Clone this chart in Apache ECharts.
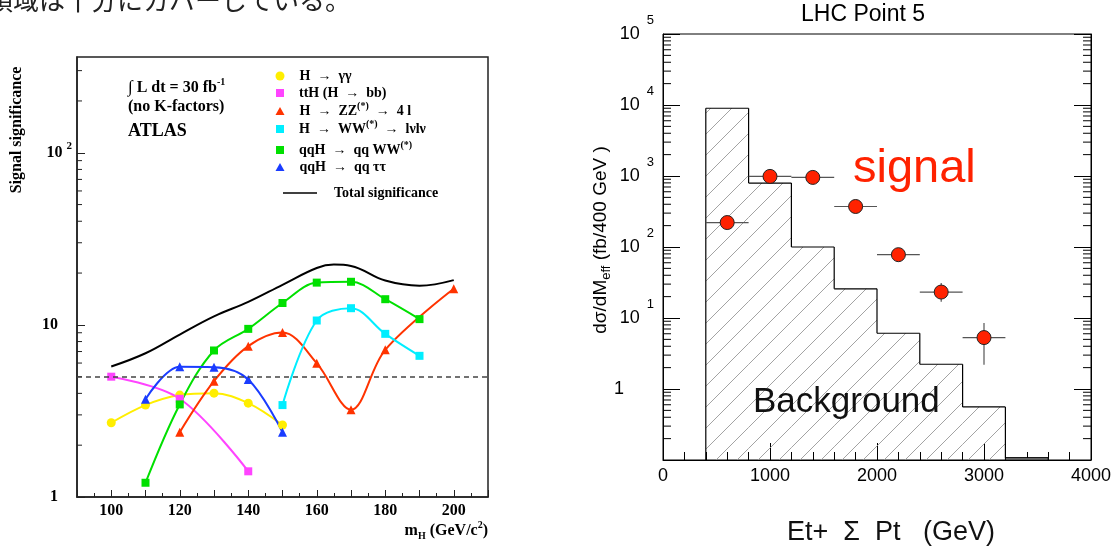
<!DOCTYPE html>
<html>
<head>
<meta charset="utf-8">
<title>Signal significance / LHC Point 5</title>
<script src="https://cdn.jsdelivr.net/npm/echarts@6/dist/echarts.min.js"></script>
<style>
  html, body { margin: 0; padding: 0; background: #fff; }
  #main { width: 1115px; height: 549px; }
</style>
</head>
<body>
<div id="main"></div>
<script>
// ---- left plot: ATLAS signal significance vs m_H (30 fb-1) ----
var gammaMass = [100, 110, 120, 130, 140, 150];
var gammaSig  = [2.70, 3.42, 3.91, 4.01, 3.51, 2.62];
var ttHMass   = [100, 120, 140];
var ttHSig    = [5.0, 3.72, 1.41];
var zzMass    = [120, 130, 140, 150, 160, 170, 180, 200];
var zzSig     = [2.38, 4.71, 7.52, 9.02, 5.99, 3.21, 7.16, 16.2];
var wwMass    = [150, 160, 170, 180, 190];
var wwSig     = [3.42, 10.6, 12.5, 8.87, 6.61];
var qqwwMass  = [110, 120, 130, 140, 150, 160, 170, 180, 190];
var qqwwSig   = [1.21, 3.45, 7.10, 9.48, 13.4, 17.6, 17.8, 14.1, 10.8];
var qqttMass  = [110, 120, 130, 140, 150];
var qqttSig   = [3.70, 5.71, 5.68, 4.82, 2.38];
var totalMass = [100, 110, 120, 130, 140, 150, 160, 165, 170, 180, 190, 200];
var totalSig  = [5.73, 6.84, 8.79, 11.2, 13.6, 17.1, 21.4, 22.4, 22.0, 18.1, 16.9, 18.2];
var discoveryLine = 5;
var leftXLabels = [100, 120, 140, 160, 180, 200];

// ---- right plot: LHC Point 5, Et + sum Pt ----
var bgBinLo  = [400, 800, 1200, 1600, 2000, 2400, 2800, 3200];
var bgVal    = [9000, 795, 100, 25.8, 6.1, 2.23, 0.56, 0.107];
var binWidth = 400;
var sigX     = [600, 1000, 1400, 1800, 2200, 2600, 3000];
var sigVal   = [221, 987, 955, 372, 78, 23.2, 5.3];
var sigLo    = [205, 950, 920, 350, 72, 17, 2.2];
var sigHi    = [240, 1030, 990, 395, 85, 31, 8.5];
var sigHalf  = [200, 200, 200, 200, 200, 200, 200];

var SERIF = '"Liberation Serif", "DejaVu Serif", serif';
var SANS = '"Liberation Sans", Arial, sans-serif';

var leftX = [90, 210], leftY = [1, 360];
var rightX = [0, 4000], rightY = [0.1, 100000];

function pairs(xs, ys) { return xs.map(function (x, i) { return [x, ys[i]]; }); }

// minor log ticks (2..9 per decade) between lo and hi
function logMinor(lo, hi) {
  var out = [];
  for (var d = lo; d < hi; d *= 10) {
    for (var m = 2; m <= 9; m++) {
      var v = Math.round(d * m * 1000) / 1000;
      if (v < hi) out.push(v);
    }
  }
  return out;
}
var leftMinor = logMinor(1, leftY[1]);
var rightMinor = logMinor(rightY[0], rightY[1]);

function isPow10(v) {
  var l = Math.log10(v);
  return Math.abs(l - Math.round(l)) < 1e-6;
}

// hatch pattern for the background histogram
var hatch = document.createElement('canvas');
hatch.width = 21; hatch.height = 21;
var hc = hatch.getContext('2d');
hc.strokeStyle = '#999';
hc.lineWidth = 0.9;
hc.beginPath();
hc.moveTo(0, 21); hc.lineTo(21, 0);
hc.moveTo(-2, 2); hc.lineTo(2, -2);
hc.moveTo(19, 23); hc.lineTo(23, 19);
hc.stroke();

var chart = echarts.init(document.getElementById('main'));

function curve(name, xs, ys, color, symbol, size) {
  return {
    name: name, type: 'line', xAxisIndex: 0, yAxisIndex: 0,
    data: pairs(xs, ys), smooth: 0.35,
    symbol: symbol, symbolSize: size, showSymbol: true,
    lineStyle: { color: color, width: 2 },
    itemStyle: { color: color },
    emphasis: { disabled: true }
  };
}

// legend rows: sup = row text has a raised (*)
var legendRows = [
  { name: 'H → γγ', y: 76, icon: 'circle', w: 9, h: 9, sup: false },
  { name: 'ttH (H → bb)', y: 93, icon: 'rect', w: 8, h: 8, sup: false },
  { name: 'H → ZZ → 4 l', y: 111, icon: 'triangle', w: 9, h: 8, sup: true },
  { name: 'H → WW → lνlν', y: 129, icon: 'rect', w: 8, h: 8, sup: true },
  { name: 'qqH → qq WW', y: 150, icon: 'rect', w: 8, h: 8, sup: true },
  { name: 'qqH → qq ττ', y: 167, icon: 'triangle', w: 9, h: 8, sup: false }
];
var legendRich = {
  'H → γγ': '{t|H  →  γγ}',
  'ttH (H → bb)': '{t|ttH (H  →  bb)}',
  'H → ZZ → 4 l': '{t|H  →  ZZ}{s|(*)}{t|  →  4 l}',
  'H → WW → lνlν': '{t|H  →  WW}{s|(*)}{t|  →  lνlν}',
  'qqH → qq WW': '{t|qqH  →  qq WW}{s|(*)}',
  'qqH → qq ττ': '{t|qqH  →  qq ττ}',
  'Total significance': '{t|Total significance}'
};
var LT = 14;                 // base legend line height
var LS = 20;                 // line height of rows with superscript
var legendTextRich = {
  t: { fontFamily: SERIF, fontWeight: 'bold', fontSize: 14, lineHeight: LT, color: '#000' },
  s: { fontFamily: SERIF, fontWeight: 'bold', fontSize: 10, lineHeight: 10, color: '#000', padding: [0, 0, LS - 10, 0] }
};
var legends = legendRows.map(function (r) {
  var th = r.sup ? LS : LT;
  return {
    data: [{ name: r.name, icon: r.icon }],
    left: 280 - r.w / 2, top: r.y - Math.max(th, r.h) / 2, padding: 0,
    itemWidth: r.w, itemHeight: r.h, selectedMode: false,
    formatter: function (n) { return legendRich[n]; },
    textStyle: { fontFamily: SERIF, fontWeight: 'bold', fontSize: 14, color: '#000',
      padding: [0, 0, 0, 10], rich: legendTextRich }
  };
});
legends.push({
  data: [{ name: 'Total significance', icon: 'rect' }],
  left: 283, top: 193 - LT / 2, padding: 0, itemWidth: 34, itemHeight: 1.5, selectedMode: false,
  formatter: function (n) { return legendRich[n]; },
  textStyle: { fontFamily: SERIF, fontWeight: 'bold', fontSize: 14, color: '#000', padding: [0, 0, 0, 12],
    rich: legendTextRich }
});

var option = {
  animation: false,
  backgroundColor: '#fff',
  textStyle: { fontFamily: SANS },
  legend: legends,
  grid: [
    { left: 77, top: 57, right: 627, bottom: 52, show: true, borderColor: '#222', borderWidth: 1.5, backgroundColor: 'transparent' },
    { left: 663, top: 34, right: 24, bottom: 89, show: true, borderColor: '#000', borderWidth: 1, backgroundColor: 'transparent' }
  ],
  xAxis: [
    {
      gridIndex: 0, type: 'value', min: leftX[0], max: leftX[1], interval: 10,
      axisLine: { lineStyle: { color: '#222', width: 1.5 } },
      axisTick: { inside: true, length: 7, lineStyle: { color: '#222', width: 1 } },
      minorTick: { show: true, splitNumber: 2, length: 4, lineStyle: { color: '#222', width: 1 } },
      splitLine: { show: false },
      axisLabel: {
        margin: 6, color: '#000', fontFamily: SERIF, fontWeight: 'bold', fontSize: 16,
        formatter: function (v) { return leftXLabels.indexOf(v) >= 0 ? String(v) : ''; }
      }
    },
    {
      gridIndex: 1, type: 'value', min: rightX[0], max: rightX[1], interval: 1000,
      axisLine: { lineStyle: { color: '#000', width: 1 } },
      axisTick: { inside: true, length: 17, lineStyle: { color: '#000', width: 1 } },
      minorTick: { show: true, splitNumber: 5, length: 8, lineStyle: { color: '#000', width: 1 } },
      splitLine: { show: false },
      axisLabel: { margin: 7, color: '#000', fontFamily: SANS, fontSize: 18,
        formatter: function (v) { return String(v); } }
    }
  ],
  yAxis: [
    {
      gridIndex: 0, type: 'log', logBase: 10, min: leftY[0], max: leftY[1],
      axisLine: { show: true, lineStyle: { color: '#222', width: 1.5 } },
      axisTick: { inside: true, length: 8, lineStyle: { color: '#222', width: 1 } },
      splitLine: { show: false },
      axisLabel: {
        margin: 5, showMaxLabel: false,
        formatter: function (v) {
          if (!isPow10(v)) return '';
          var e = Math.round(Math.log10(v));
          if (e >= 2) return '{b|10}{e|' + e + '}';
          return '{p|' + (e === 1 ? '10' : '1') + '}';
        },
        rich: {
          b: { fontFamily: SERIF, fontWeight: 'bold', fontSize: 16, color: '#000' },
          p: { fontFamily: SERIF, fontWeight: 'bold', fontSize: 16, color: '#000', padding: [0, 14, 0, 0] },
          e: { fontFamily: SERIF, fontWeight: 'bold', fontSize: 11, color: '#000', padding: [0, 0, 14, 4] }
        }
      }
    },
    {
      gridIndex: 1, type: 'log', logBase: 10, min: rightY[0], max: rightY[1],
      axisLine: { show: true, lineStyle: { color: '#000', width: 1 } },
      axisTick: { inside: true, length: 17, lineStyle: { color: '#000', width: 1 } },
      splitLine: { show: false },
      axisLabel: {
        margin: 9,
        formatter: function (v) {
          if (!isPow10(v)) return '';
          var e = Math.round(Math.log10(v));
          if (e < 0) return '';
          if (e === 0) return '{one|1}';
          return '{b|10}{e|' + e + '}';
        },
        rich: {
          b: { fontFamily: SANS, fontSize: 18, color: '#000' },
          one: { fontFamily: SANS, fontSize: 18, color: '#000', padding: [0, 30, 0, 0] },
          e: { fontFamily: SANS, fontSize: 13, color: '#000', padding: [0, 0, 28, 7] }
        }
      }
    },
    {
      gridIndex: 1, type: 'log', logBase: 10, min: rightY[0], max: rightY[1], position: 'right',
      axisLine: { show: true, lineStyle: { color: '#000', width: 1 } },
      axisTick: { inside: true, length: 17, lineStyle: { color: '#000', width: 1 } },
      axisLabel: { show: false },
      splitLine: { show: false }
    }
  ],
  series: [
    // left minor ticks on the log axis
    {
      type: 'custom', xAxisIndex: 0, yAxisIndex: 0, silent: true, clip: false,
      data: leftMinor.map(function (v) { return [leftX[0], v]; }),
      renderItem: function (params, api) {
        var p = api.coord([leftX[0], api.value(1)]);
        return { type: 'line', shape: { x1: p[0], y1: p[1], x2: p[0] + 5, y2: p[1] },
          style: { stroke: '#222', lineWidth: 1 } };
      }
    },
    curve('H → γγ', gammaMass, gammaSig, '#ffee00', 'circle', 9),
    curve('ttH (H → bb)', ttHMass, ttHSig, '#ff44ff', 'rect', 8),
    curve('H → ZZ → 4 l', zzMass, zzSig, '#ff3300', 'triangle', 9),
    curve('H → WW → lνlν', wwMass, wwSig, '#00eeff', 'rect', 8),
    curve('qqH → qq WW', qqwwMass, qqwwSig, '#00e000', 'rect', 8),
    curve('qqH → qq ττ', qqttMass, qqttSig, '#1a3cff', 'triangle', 9),
    {
      name: 'Total significance', type: 'line', xAxisIndex: 0, yAxisIndex: 0,
      data: pairs(totalMass, totalSig), smooth: 0.4, symbol: 'none',
      lineStyle: { color: '#000', width: 2 }, itemStyle: { color: '#000' },
      emphasis: { disabled: true },
      markLine: {
        silent: true, symbol: 'none', label: { show: false },
        lineStyle: { color: '#444', type: [5, 4], width: 1.5 },
        data: [{ yAxis: discoveryLine }]
      }
    },
    // right minor ticks (both sides)
    {
      type: 'custom', xAxisIndex: 1, yAxisIndex: 1, silent: true, clip: false,
      data: rightMinor.map(function (v) { return [rightX[0], v]; }),
      renderItem: function (params, api) {
        var pl = api.coord([rightX[0], api.value(1)]);
        var pr = api.coord([rightX[1], api.value(1)]);
        return { type: 'group', children: [
          { type: 'line', shape: { x1: pl[0], y1: pl[1], x2: pl[0] + 8, y2: pl[1] }, style: { stroke: '#000', lineWidth: 1 } },
          { type: 'line', shape: { x1: pr[0], y1: pr[1], x2: pr[0] - 8, y2: pr[1] }, style: { stroke: '#000', lineWidth: 1 } }
        ] };
      }
    },
    // background histogram (hatched, step outline)
    {
      type: 'custom', xAxisIndex: 1, yAxisIndex: 1, silent: true, z: 2,
      data: pairs(bgBinLo, bgVal),
      renderItem: function (params, api) {
        var i = params.dataIndex;
        var x0 = api.value(0), v = api.value(1);
        var tl = api.coord([x0, v]);
        var br = api.coord([x0 + binWidth, rightY[0]]);
        var prev = api.coord([x0, i > 0 ? bgVal[i - 1] : rightY[0]]);
        var kids = [
          { type: 'rect', shape: { x: tl[0], y: tl[1], width: br[0] - tl[0], height: br[1] - tl[1] },
            style: { fill: { image: hatch, repeat: 'repeat' } } },
          { type: 'line', shape: { x1: tl[0], y1: tl[1], x2: br[0], y2: tl[1] }, style: { stroke: '#000', lineWidth: 1.2 } },
          { type: 'line', shape: { x1: tl[0], y1: prev[1], x2: tl[0], y2: tl[1] }, style: { stroke: '#000', lineWidth: 1.2 } }
        ];
        if (i === bgVal.length - 1) {
          kids.push({ type: 'rect', shape: { x: tl[0], y: tl[1], width: br[0] - tl[0], height: br[1] - tl[1] },
            style: { fill: '#aaa', stroke: '#000', lineWidth: 1 } });
        }
        return { type: 'group', children: kids };
      }
    },
    // signal error bars
    {
      type: 'custom', xAxisIndex: 1, yAxisIndex: 1, silent: true, z: 3,
      data: sigX.map(function (x, i) { return [x, sigVal[i], sigLo[i], sigHi[i], sigHalf[i]]; }),
      renderItem: function (params, api) {
        var x = api.value(0), v = api.value(1), hw = api.value(4);
        var a = api.coord([x - hw, v]), b = api.coord([x + hw, v]);
        var lo = api.coord([x, api.value(2)]), hi = api.coord([x, api.value(3)]);
        return { type: 'group', children: [
          { type: 'line', shape: { x1: a[0], y1: a[1], x2: b[0], y2: b[1] }, style: { stroke: '#555', lineWidth: 1.2 } },
          { type: 'line', shape: { x1: lo[0], y1: lo[1], x2: hi[0], y2: hi[1] }, style: { stroke: '#555', lineWidth: 1.2 } }
        ] };
      }
    },
    {
      type: 'scatter', xAxisIndex: 1, yAxisIndex: 1, z: 4,
      data: pairs(sigX, sigVal), symbol: 'circle', symbolSize: 14,
      itemStyle: { color: '#ff2200', borderColor: '#222', borderWidth: 1, opacity: 1 },
      emphasis: { disabled: true }
    }
  ],
  graphic: [
    { type: 'text', x: -13, y: 0, silent: true,
      style: { text: '領域は十分にカバーしている。', fill: '#222', fontSize: 26,
        fontFamily: '"Noto Sans CJK JP", sans-serif', align: 'left', textAlign: 'left', verticalAlign: 'middle', textVerticalAlign: 'middle' } },
    { type: 'text', x: 17, y: 130, rotation: Math.PI / 2, silent: true,
      style: { text: 'Signal significance', fill: '#000', fontSize: 16, fontWeight: 'bold', fontFamily: SERIF,
        align: 'center', textAlign: 'center', verticalAlign: 'middle', textVerticalAlign: 'middle' } },
    { type: 'text', x: 128, y: 88, silent: true,
      style: { text: '{i|∫}{t| L dt = 30 fb}{s|-1}', fill: '#000', fontSize: 16, fontWeight: 'bold', fontFamily: SERIF,
        align: 'left', textAlign: 'left', verticalAlign: 'middle', textVerticalAlign: 'middle',
        rich: { i: { fontFamily: SERIF, fontSize: 17, fontWeight: 'normal' },
          t: { fontFamily: SERIF, fontSize: 16, fontWeight: 'bold' },
          s: { fontFamily: SERIF, fontSize: 10, fontWeight: 'bold', padding: [0, 0, 12, 0] } } } },
    { type: 'text', x: 128, y: 107, silent: true,
      style: { text: '(no K-factors)', fill: '#000', fontSize: 16, fontWeight: 'bold', fontFamily: SERIF,
        align: 'left', textAlign: 'left', verticalAlign: 'middle', textVerticalAlign: 'middle' } },
    { type: 'text', x: 128, y: 131, silent: true,
      style: { text: 'ATLAS', fill: '#000', fontSize: 18, fontWeight: 'bold', fontFamily: SERIF,
        align: 'left', textAlign: 'left', verticalAlign: 'middle', textVerticalAlign: 'middle' } },
    { type: 'text', x: 488, y: 531, silent: true,
      style: { text: '{t|m}{b|H}{t| (GeV/c}{p|2}{t|)}', fill: '#000', fontFamily: SERIF, fontWeight: 'bold', fontSize: 16,
        align: 'right', textAlign: 'right', verticalAlign: 'middle', textVerticalAlign: 'middle',
        rich: { t: { fontFamily: SERIF, fontWeight: 'bold', fontSize: 16 },
          b: { fontFamily: SERIF, fontWeight: 'bold', fontSize: 10, padding: [10, 0, 0, 0] },
          p: { fontFamily: SERIF, fontWeight: 'bold', fontSize: 10, padding: [0, 0, 12, 0] } } } },
    { type: 'text', x: 863, y: 15, silent: true,
      style: { text: 'LHC Point 5', fill: '#000', fontSize: 23, fontFamily: SANS,
        align: 'center', textAlign: 'center', verticalAlign: 'middle', textVerticalAlign: 'middle' } },
    { type: 'text', x: 601, y: 240, rotation: Math.PI / 2, silent: true,
      style: { text: '{t|dσ/dM}{s|eff}{t| (fb/400 GeV )}', fill: '#000', fontSize: 19, fontFamily: SANS,
        align: 'center', textAlign: 'center', verticalAlign: 'middle', textVerticalAlign: 'middle',
        rich: { t: { fontFamily: SANS, fontSize: 19 }, s: { fontFamily: SANS, fontSize: 13, padding: [10, 0, 0, 0] } } } },
    { type: 'text', x: 853, y: 169, silent: true, z: 10,
      style: { text: 'signal', fill: '#ff2200', fontSize: 47, fontFamily: SANS,
        align: 'left', textAlign: 'left', verticalAlign: 'middle', textVerticalAlign: 'middle' } },
    { type: 'text', x: 753, y: 402, silent: true, z: 10,
      style: { text: 'Background', fill: '#111', fontSize: 35, fontFamily: SANS,
        align: 'left', textAlign: 'left', verticalAlign: 'middle', textVerticalAlign: 'middle' } },
    { type: 'text', x: 891, y: 533, silent: true,
      style: { text: 'Et+  Σ  Pt   (GeV)', fill: '#111', fontSize: 27, fontFamily: SANS,
        align: 'center', textAlign: 'center', verticalAlign: 'middle', textVerticalAlign: 'middle' } }
  ]
};

chart.setOption(option);
window.addEventListener('resize', function () { chart.resize(); });
</script>
</body>
</html>
